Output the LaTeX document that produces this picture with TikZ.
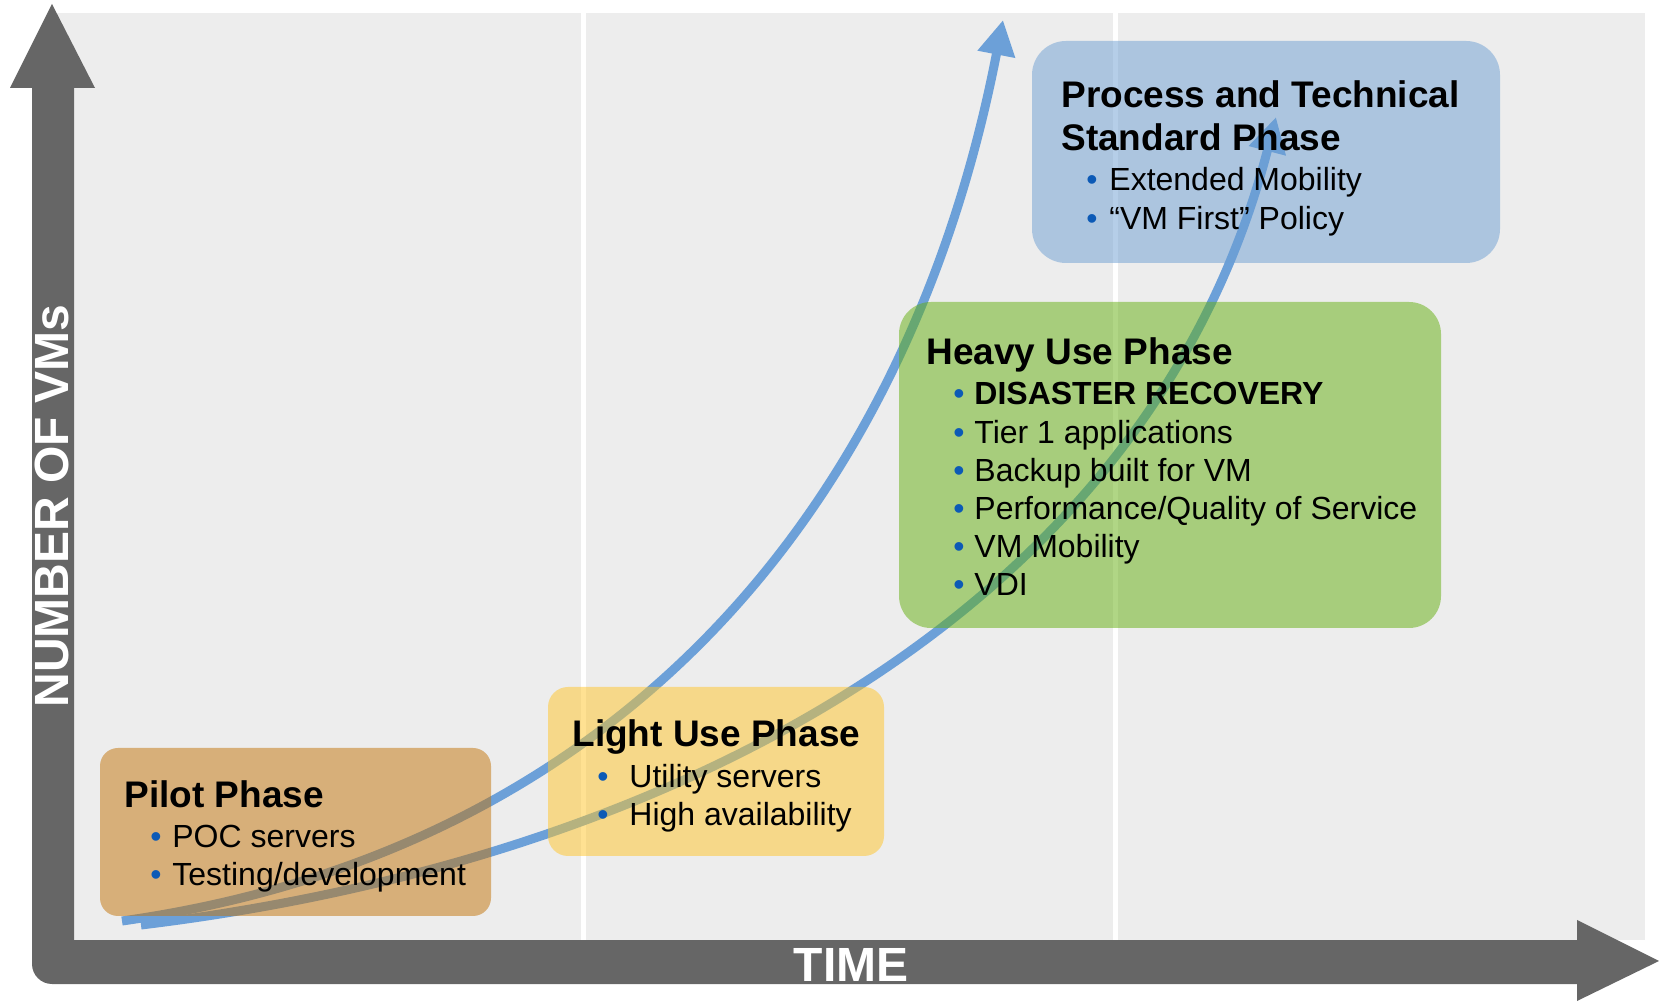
\documentclass[tikz,border=0pt]{standalone}
\usepackage{fontspec}
\setmainfont{Liberation Sans}
\usepackage{tikz}
\usetikzlibrary{arrows.meta}

\definecolor{panelgray}{RGB}{237,237,237}
\definecolor{axisgray}{RGB}{102,102,102}
\definecolor{curveblue}{RGB}{108,160,216}
\definecolor{bulletblue}{RGB}{12,90,182}
\definecolor{pilotfill}{RGB}{195,115,7}
\definecolor{lightfill}{RGB}{255,197,39}
\definecolor{heavyfill}{RGB}{99,175,13}
\definecolor{processfill}{RGB}{109,159,211}

\begin{document}
\begin{tikzpicture}[x=0.5pt, y=0.5pt,
  phasebox/.style={fill opacity=0.5},
  growth/.style={curveblue, line width=4.5pt, -{Triangle[length=17.5pt, width=18pt]}},
  phasetitle/.style={anchor=base west, inner sep=0pt, font=\bfseries\fontsize{18.5}{20}\selectfont},
  phaseitem/.style={anchor=base west, inner sep=0pt, font=\fontsize{16}{18}\selectfont},
  bulletdot/.style={anchor=base west, inner sep=0pt, text=bulletblue, font=\fontsize{16}{18}\selectfont},
  axislabel/.style={inner sep=0pt, text=white, font=\bfseries\fontsize{24}{26}\selectfont}]
\useasboundingbox (0,0) rectangle (1659,1001);
\fill[panelgray] (53,61) rectangle (1645,988);
\draw[white, line width=2.5pt] (583,61) -- (583,988);
\draw[white, line width=2.5pt] (1115,61) -- (1115,988);

\coordinate (c1start) at (122,80);
\coordinate (c1end) at (1003,981);
\coordinate (c2start) at (141,76);
\coordinate (c2end) at (1276,884);
\draw[growth] (c1start) .. controls (617,150) and (908,491) .. (c1end);
\draw[growth] (c2start) .. controls (685,142) and (1151,399) .. (c2end);

\fill[phasebox, pilotfill, rounded corners=9pt] (100,85) rectangle (491,253);
\fill[phasebox, lightfill, rounded corners=10pt] (548,145) rectangle (884,314);
\fill[phasebox, heavyfill, rounded corners=16pt] (899,373) rectangle (1441,699);
\fill[phasebox, processfill, rounded corners=17pt] (1032,738) rectangle (1500,960);

\node[phasetitle] (pilot-title) at (124,193) {Pilot Phase};
\foreach \txt [count=\i] in {POC servers, Testing/development} {
  \node[bulletdot] (pilot-b\i) at (150,191-38*\i) {\textbullet};
  \node[phaseitem] (pilot-i\i) at (172,191-38*\i) {\txt};
}
\node[phasetitle] (light-title) at (572,254) {Light Use Phase};
\foreach \txt [count=\i] in {Utility servers, High availability} {
  \node[bulletdot] (light-b\i) at (597,251-38*\i) {\textbullet};
  \node[phaseitem] (light-i\i) at (629,251-38*\i) {\txt};
}
\node[phasetitle] (heavy-title) at (926,636) {Heavy Use Phase};
\foreach \txt [count=\i] in {\textbf{DISASTER RECOVERY}, Tier 1 applications, Backup built for VM,
  Performance/Quality of Service, VM Mobility, VDI} {
  \node[bulletdot] (heavy-b\i) at (953,634.2-38.2*\i) {\textbullet};
  \node[phaseitem] (heavy-i\i) at (974,634.2-38.2*\i) {\txt};
}
\node[phasetitle] (process-title1) at (1061,893) {Process and Technical};
\node[phasetitle] (process-title2) at (1061,850) {Standard Phase};
\foreach \txt [count=\i] in {Extended Mobility, “VM First” Policy} {
  \node[bulletdot] (process-b\i) at (1086,849-39*\i) {\textbullet};
  \node[phaseitem] (process-i\i) at (1109,849-39*\i) {\txt};
}

\fill[axisgray] (74,61) -- (74,913) -- (95,913) -- (52,997) -- (10,913) -- (32,913)
  -- (32,37) arc[start angle=180, end angle=270, radius=20] -- (1577,17) -- (1577,0)
  -- (1659,40) -- (1577,81) -- (1577,61) -- cycle;
\node[axislabel, rotate=90] (ylabel) at (52,495) {NUMBER OF VMs};
\node[axislabel] (xlabel) at (851,36) {TIME};
\end{tikzpicture}
\end{document}
